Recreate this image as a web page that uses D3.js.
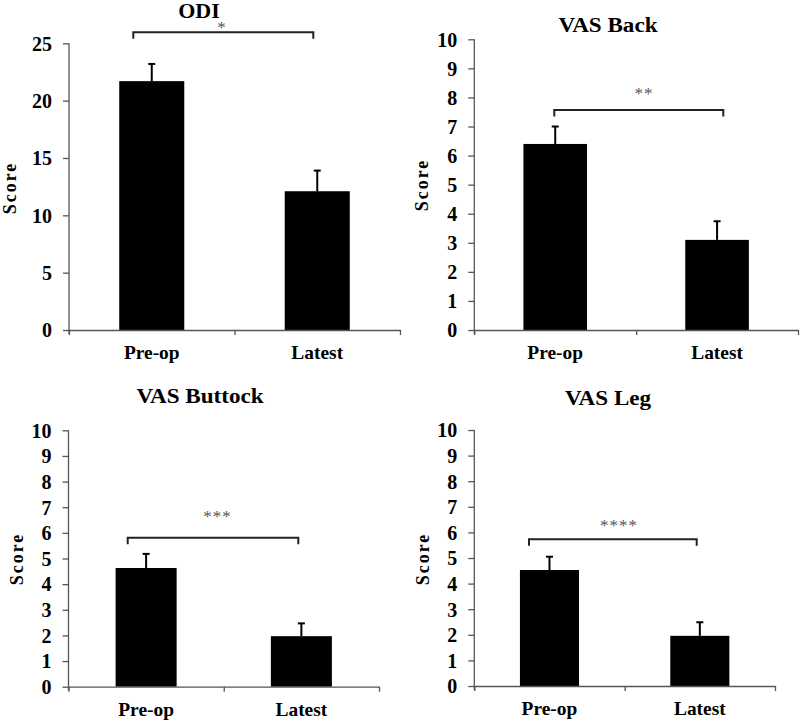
<!DOCTYPE html>
<html>
<head>
<meta charset="utf-8">
<script src="https://cdn.jsdelivr.net/npm/d3@7"></script>
<style>
  html, body { margin: 0; padding: 0; background: #fff; }
  svg { display: block; }
  svg text { font-family: "Liberation Serif", "Tinos", "Times New Roman", Times, "DejaVu Serif", "Noto Serif", serif; font-weight: bold; fill: #000; }
</style>
</head>
<body>
<svg id="chart" width="800" height="722"></svg>
<script>
// ---- data ----
const categories = ["Pre-op", "Latest"];
const panelTitles = ["ODI", "VAS Back", "VAS Buttock", "VAS Leg"];
const meanODI = [21.7, 12.1];
const errODI = [1.5, 1.8];
const meanBack = [6.4, 3.1];
const errBack = [0.6, 0.64];
const meanButtock = [4.63, 1.97];
const errButtock = [0.55, 0.5];
const meanLeg = [4.53, 1.96];
const errLeg = [0.52, 0.53];
const yMaxes = [25, 10, 10, 10];
const yTickValuesODI = [0, 5, 10, 15, 20, 25];
const yTickValuesVAS = [0, 1, 2, 3, 4, 5, 6, 7, 8, 9, 10];
const sigLabels = ["*", "**", "***", "****"];
const yAxisLabel = "Score";

// ---- layout (pixels) ----
const layout = [
  { axisX: 69,    xEnd: 400, y0: 330,   yTop: 43.3,  title: [199, 18],  score: [16, 188],  br: { y: 32.3,  x1: 133.3, x2: 313.3 }, star: [222, 25] },
  { axisX: 474.3, xEnd: 798, y0: 330,   yTop: 39.3,  title: [608, 32],  score: [428, 185], br: { y: 110,   x1: 554.3, x2: 723.3 }, star: [644, 90.7] },
  { axisX: 68.5,  xEnd: 379, y0: 686.7, yTop: 430.3, title: [200, 403], score: [23, 559],  br: { y: 537.7, x1: 127.7, x2: 298.3 }, star: [217.5, 514] },
  { axisX: 474.3, xEnd: 775, y0: 686,   yTop: 430,   title: [608, 405], score: [429, 559], br: { y: 539.3, x1: 529,   x2: 696.7 }, star: [619, 523] }
];

const panels = [
  { means: meanODI, errs: errODI, ticks: yTickValuesODI },
  { means: meanBack, errs: errBack, ticks: yTickValuesVAS },
  { means: meanButtock, errs: errButtock, ticks: yTickValuesVAS },
  { means: meanLeg, errs: errLeg, ticks: yTickValuesVAS }
];

const FONT = '"Liberation Serif", "Tinos", "Times New Roman", Times, "DejaVu Serif", "Noto Serif", serif';
const svg = d3.select("#chart");
const axisColor = "#555";

function stretchedText(g, x, y, str, size, sx, anchor) {
  return g.append("text")
    .attr("transform", `translate(${x},${y}) scale(${sx},1)`)
    .attr("text-anchor", anchor || "middle")
    .style("font-family", FONT)
    .style("font-size", size + "px")
    .text(str);
}

panels.forEach((p, i) => {
  const L = layout[i];
  const g = svg.append("g");
  const x = d3.scaleBand().domain(categories).range([L.axisX, L.xEnd])
    .paddingInner(0.607).paddingOuter(0.3035);
  const y = d3.scaleLinear().domain([0, yMaxes[i]]).range([L.y0, L.yTop]);

  // bars
  g.selectAll("rect.bar").data(categories).join("rect")
    .attr("class", "bar")
    .attr("x", d => x(d))
    .attr("width", x.bandwidth())
    .attr("y", (d, j) => y(p.means[j]))
    .attr("height", (d, j) => L.y0 - y(p.means[j]))
    .attr("fill", "#000");

  // error bars (upper only)
  const eb = g.selectAll("g.err").data(categories).join("g").attr("class", "err");
  eb.append("line")
    .attr("x1", d => x(d) + x.bandwidth() / 2)
    .attr("x2", d => x(d) + x.bandwidth() / 2)
    .attr("y1", (d, j) => y(p.means[j]))
    .attr("y2", (d, j) => y(p.means[j] + p.errs[j]))
    .attr("stroke", "#000").attr("stroke-width", 2);
  eb.append("line")
    .attr("x1", d => x(d) + x.bandwidth() / 2 - 3.5)
    .attr("x2", d => x(d) + x.bandwidth() / 2 + 3.5)
    .attr("y1", (d, j) => y(p.means[j] + p.errs[j]))
    .attr("y2", (d, j) => y(p.means[j] + p.errs[j]))
    .attr("stroke", "#000").attr("stroke-width", 2);

  // y axis
  const yAxis = d3.axisLeft(y).tickValues(p.ticks).tickSize(6).tickPadding(11).tickSizeOuter(0);
  const ya = g.append("g").attr("transform", `translate(${L.axisX},0)`).call(yAxis);
  ya.attr("font-family", null).attr("font-size", null);
  ya.select(".domain").attr("stroke", axisColor).attr("stroke-width", 1.3)
    .attr("d", `M0,${L.yTop}V${L.y0 + 4}`);
  ya.selectAll(".tick line").attr("stroke", axisColor).attr("stroke-width", 1.3);
  ya.selectAll(".tick text")
    .style("font-family", FONT).style("font-weight", "bold")
    .style("font-size", "20px").attr("fill", "#000").attr("dy", "0.34em");

  // x axis with ticks at band boundaries
  const xEdge = d3.scaleLinear().domain([0, categories.length]).range([L.axisX, L.xEnd]);
  const xa = g.append("g").attr("transform", `translate(0,${L.y0})`)
    .call(d3.axisBottom(xEdge).tickValues(d3.range(categories.length + 1)).tickSize(5).tickSizeOuter(0).tickFormat(""));
  xa.select(".domain").attr("stroke", axisColor).attr("stroke-width", 1.3);
  xa.selectAll(".tick line").attr("stroke", axisColor).attr("stroke-width", 1.3);

  // category labels
  categories.forEach(c => {
    stretchedText(g, x(c) + x.bandwidth() / 2, L.y0 + 29, c, 18, 1.08);
  });

  // title
  stretchedText(g, L.title[0], L.title[1], panelTitles[i], i === 0 ? 20 : 21, 1.1);

  // y label
  g.append("text")
    .attr("transform", `translate(${L.score[0]},${L.score[1]}) rotate(-90)`)
    .attr("text-anchor", "middle")
    .style("font-family", FONT)
    .style("font-size", "18px")
    .style("letter-spacing", "2px")
    .text(yAxisLabel);

  // significance bracket
  const b = L.br;
  g.append("path")
    .attr("d", `M${b.x1},${b.y + 6.5}V${b.y}H${b.x2}V${b.y + 6.5}`)
    .attr("fill", "none").attr("stroke", "#222").attr("stroke-width", 2);
  g.append("text")
    .attr("x", L.star[0]).attr("y", L.star[1] + 8)
    .attr("text-anchor", "middle")
    .style("font-family", FONT)
    .style("font-size", "17px").style("font-weight", "normal")
    .style("letter-spacing", "1px")
    .style("fill", "#555")
    .text(sigLabels[i]);
});
</script>
</body>
</html>
